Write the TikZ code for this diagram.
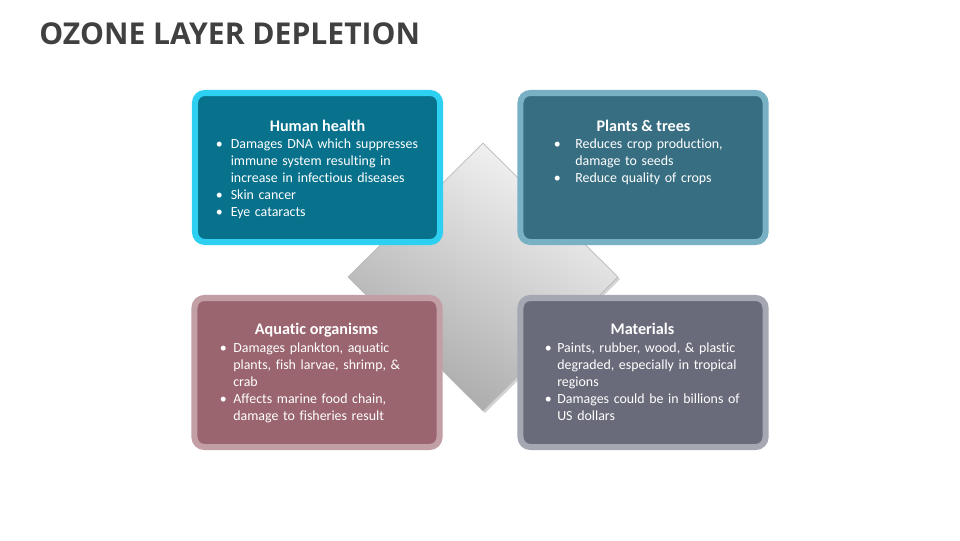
\documentclass[tikz,border=0pt]{standalone}
\usepackage{fontspec}
\setmainfont{Carlito}[Ligatures=NoCommon]
\newfontfamily\titlefont{Open Sans}
\usetikzlibrary{positioning}
\usetikzlibrary{shapes.geometric}
\usetikzlibrary{shadows}

\definecolor{healthfill}{HTML}{08728C}
\definecolor{healthline}{HTML}{2ED0F2}
\definecolor{plantfill}{HTML}{386E82}
\definecolor{plantline}{HTML}{78B0C4}
\definecolor{aquafill}{HTML}{9A656E}
\definecolor{aqualine}{HTML}{C29EA5}
\definecolor{matfill}{HTML}{6A6B7A}
\definecolor{matline}{HTML}{A5A7B2}
\definecolor{titlegray}{HTML}{404040}

\newdimen\pxu \pxu=0.7114pt
\newdimen\bgap
\newcommand\itm[1]{\hangindent=\bgap\hangafter=1\noindent\makebox[\bgap][l]{\textbullet}#1\par}

\begin{document}
\begin{tikzpicture}[x=0.025cm,y=-0.025cm,every node/.style={inner sep=0pt},
    card/.style={draw, line width=4.3pt, rounded corners=7pt, minimum width=6.125cm, minimum height=3.725cm},
    head/.style={anchor=base, text=white, font=\fontsize{11.5}{13}\selectfont\bfseries},
    items/.style={anchor=base west, text=white, text width=5.5cm, align=left, font=\fontsize{9.9}{12.1}\selectfont}]
\useasboundingbox (0,0) rectangle (960,540);
\node[anchor=base west, text=titlegray, font=\titlefont\bfseries\fontsize{21.4}{25}\selectfont] (title) at (39,44) {OZONE LAYER DEPLETION};
% centre piece
\node[diamond, minimum width=6.75cm, minimum height=6.7cm, draw=gray!55, line width=0.5pt,
    top color=gray!8, bottom color=gray!68, shading angle=-30,
    drop shadow={opacity=0.35, shadow xshift=1.5pt, shadow yshift=-1.5pt}] (ozone) at (483,277) {};
% the four cards
\node[card, draw=healthline, fill=healthfill] (health) at (317.5,167.5) {};
\node[card, draw=plantline, fill=plantfill] (plants) at (643,167.5) {};
\node[card, draw=aqualine, fill=aquafill] (aqua) at (317,372.5) {};
\node[card, draw=matline, fill=matfill] (mater) at (643,372.5) {};
\node[head] (healthT) at (317.5,131) {Human health};
\node[head] (plantsT) at (643.5,131) {Plants \& trees};
\node[head] (aquaT) at (316.5,334) {Aquatic organisms};
\node[head] (materT) at (642.5,334) {Materials};
\node[items] (healthL) at (215.5,148) {\bgap=15\pxu
  \itm{Damages DNA which suppresses\newline immune system resulting in\newline increase in infectious diseases}
  \itm{Skin cancer}
  \itm{Eye cataracts}};
\node[items] (plantsL) at (553.5,148) {\bgap=21.5\pxu
  \itm{Reduces crop production,\newline damage to seeds}
  \itm{Reduce quality of crops}};
\node[items] (aquaL) at (219.5,352) {\bgap=13.5\pxu
  \itm{Damages plankton, aquatic\newline plants, fish larvae, shrimp, \&\newline crab}
  \itm{Affects marine food chain,\newline damage to fisheries result}};
\node[items] (materL) at (544.5,352) {\bgap=12.5\pxu
  \itm{Paints, rubber, wood, \& plastic\newline degraded, especially in tropical\newline regions}
  \itm{Damages could be in billions of\newline US dollars}};
\end{tikzpicture}
\end{document}
